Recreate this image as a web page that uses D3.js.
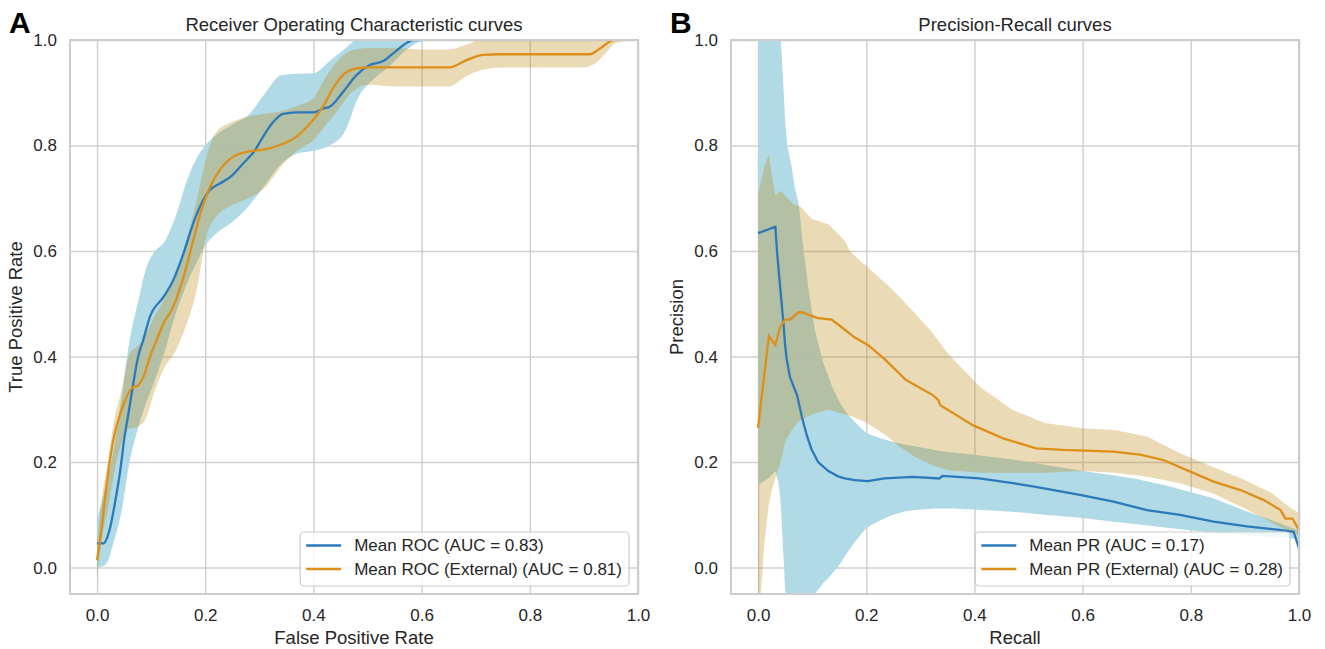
<!DOCTYPE html>
<html>
<head>
<meta charset="utf-8">
<script src="https://cdn.jsdelivr.net/npm/d3@7"></script>
<style>
  body { margin: 0; background: #fff; }
  text { font-family: "Liberation Sans", Arial, sans-serif; fill: #262626; }
</style>
</head>
<body>
<div id="chart"></div>
<script>
// ---- ROC panel (A) ----
const rocMeanX = [0, 0.012, 0.023, 0.033, 0.043, 0.05, 0.058, 0.067, 0.076, 0.085, 0.098, 0.123, 0.141, 0.16, 0.178, 0.193, 0.209, 0.227, 0.246, 0.27, 0.292, 0.307, 0.326, 0.344, 0.369, 0.4, 0.418, 0.431, 0.455, 0.48, 0.505, 0.529, 0.548, 0.566, 0.585, 0.6];
const rocMeanY = [0.046, 0.046, 0.071, 0.122, 0.185, 0.242, 0.292, 0.349, 0.40, 0.43, 0.476, 0.513, 0.545, 0.596, 0.653, 0.69, 0.716, 0.728, 0.74, 0.766, 0.791, 0.817, 0.845, 0.86, 0.863, 0.863, 0.87, 0.874, 0.902, 0.934, 0.953, 0.96, 0.975, 0.99, 1.0, 1.0];
const rocBandX = [0, 0.01, 0.02, 0.03, 0.045, 0.06, 0.075, 0.09, 0.105, 0.125, 0.145, 0.165, 0.185, 0.2, 0.22, 0.25, 0.28, 0.31, 0.34, 0.37, 0.4, 0.43, 0.46, 0.48, 0.51, 0.54, 0.57, 0.6];
const rocHi = [0.09, 0.13, 0.17, 0.22, 0.32, 0.43, 0.50, 0.565, 0.597, 0.618, 0.665, 0.73, 0.778, 0.80, 0.82, 0.84, 0.858, 0.898, 0.933, 0.936, 0.937, 0.96, 0.985, 1.0, 1.0, 1.0, 1.0, 1.0];
const rocLo = [0.0, 0.002, 0.012, 0.046, 0.105, 0.2, 0.262, 0.31, 0.35, 0.41, 0.48, 0.535, 0.58, 0.61, 0.633, 0.655, 0.685, 0.725, 0.765, 0.785, 0.79, 0.80, 0.83, 0.885, 0.925, 0.95, 0.98, 1.0];

const rocExtMeanX = [0, 0.008, 0.015, 0.023, 0.03, 0.043, 0.055, 0.064, 0.076, 0.086, 0.098, 0.11, 0.123, 0.141, 0.16, 0.178, 0.193, 0.209, 0.227, 0.252, 0.277, 0.307, 0.338, 0.369, 0.394, 0.418, 0.437, 0.455, 0.48, 0.505, 0.55, 0.652, 0.683, 0.714, 0.745, 0.911, 0.93, 0.948, 0.955];
const rocExtMeanY = [0.014, 0.071, 0.134, 0.198, 0.242, 0.292, 0.324, 0.34, 0.346, 0.362, 0.40, 0.431, 0.463, 0.495, 0.551, 0.621, 0.678, 0.722, 0.754, 0.779, 0.788, 0.792, 0.801, 0.817, 0.842, 0.874, 0.91, 0.934, 0.946, 0.948, 0.948, 0.948, 0.962, 0.972, 0.973, 0.973, 0.984, 0.997, 1.0];
const rocExtBandX = [0, 0.01, 0.02, 0.03, 0.045, 0.06, 0.075, 0.09, 0.105, 0.125, 0.145, 0.165, 0.185, 0.2, 0.22, 0.25, 0.28, 0.31, 0.34, 0.37, 0.4, 0.42, 0.44, 0.47, 0.5, 0.55, 0.6, 0.65, 0.68, 0.71, 0.75, 0.9, 0.92, 0.94, 0.96, 1.0];
const rocExtHi = [0.05, 0.14, 0.2, 0.27, 0.335, 0.405, 0.42, 0.44, 0.475, 0.51, 0.555, 0.62, 0.70, 0.77, 0.825, 0.845, 0.855, 0.86, 0.865, 0.875, 0.89, 0.925, 0.955, 0.98, 0.985, 0.985, 0.982, 0.982, 0.99, 1.0, 1.0, 1.0, 1.0, 1.0, 1.0, 1.0];
const rocExtLo = [-0.02, 0.06, 0.11, 0.17, 0.235, 0.263, 0.267, 0.282, 0.33, 0.38, 0.41, 0.46, 0.53, 0.62, 0.665, 0.687, 0.70, 0.72, 0.76, 0.79, 0.81, 0.835, 0.86, 0.9, 0.915, 0.912, 0.912, 0.912, 0.93, 0.943, 0.948, 0.948, 0.955, 0.975, 0.995, 1.0];

// ---- Precision-Recall panel (B) ----
const prMeanX = [0, 0.032, 0.035, 0.041, 0.047, 0.05, 0.053, 0.059, 0.072, 0.081, 0.09, 0.099, 0.111, 0.13, 0.148, 0.16, 0.179, 0.203, 0.234, 0.27, 0.286, 0.335, 0.341, 0.409, 0.471, 0.49, 0.508, 0.595, 0.657, 0.719, 0.78, 0.842, 0.904, 0.96, 0.99, 1.0];
const prMeanY = [0.634, 0.646, 0.6, 0.53, 0.463, 0.422, 0.395, 0.361, 0.327, 0.286, 0.251, 0.224, 0.2, 0.183, 0.173, 0.169, 0.166, 0.164, 0.169, 0.171, 0.172, 0.169, 0.174, 0.169, 0.16, 0.157, 0.154, 0.138, 0.125, 0.109, 0.1, 0.087, 0.078, 0.072, 0.068, 0.037];
const prBandX = [0, 0.02, 0.032, 0.038, 0.042, 0.046, 0.05, 0.054, 0.058, 0.062, 0.068, 0.075, 0.082, 0.093, 0.105, 0.12, 0.136, 0.15, 0.166, 0.18, 0.2, 0.226, 0.25, 0.273, 0.3, 0.33, 0.36, 0.4, 0.47, 0.53, 0.6, 0.65, 0.7, 0.76, 0.84, 0.9, 0.95, 0.98, 1.0];
const prHi = [1.1, 1.1, 1.1, 1.05, 1.0, 0.93, 0.85, 0.8, 0.78, 0.76, 0.72, 0.69, 0.62, 0.53, 0.45, 0.39, 0.345, 0.315, 0.29, 0.275, 0.255, 0.245, 0.238, 0.233, 0.228, 0.222, 0.218, 0.214, 0.205, 0.195, 0.183, 0.176, 0.168, 0.154, 0.132, 0.108, 0.09, 0.078, 0.07];
const prLo = [0.156, 0.17, 0.183, 0.16, 0.12, 0.04, -0.04, -0.06, -0.08, -0.09, -0.1, -0.1, -0.09, -0.07, -0.05, -0.03, -0.013, 0.005, 0.03, 0.05, 0.075, 0.09, 0.1, 0.107, 0.11, 0.112, 0.112, 0.11, 0.106, 0.1, 0.094, 0.088, 0.082, 0.075, 0.066, 0.062, 0.058, 0.056, 0.054];

const prExtMeanX = [0, 0.02, 0.032, 0.041, 0.05, 0.059, 0.075, 0.081, 0.096, 0.111, 0.136, 0.154, 0.179, 0.203, 0.234, 0.273, 0.323, 0.333, 0.337, 0.397, 0.453, 0.514, 0.564, 0.657, 0.706, 0.749, 0.799, 0.842, 0.892, 0.935, 0.966, 0.975, 0.988, 1.0];
const prExtMeanY = [0.265, 0.439, 0.422, 0.456, 0.47, 0.47, 0.484, 0.484, 0.478, 0.473, 0.47, 0.456, 0.436, 0.422, 0.395, 0.356, 0.327, 0.318, 0.308, 0.27, 0.245, 0.226, 0.223, 0.22, 0.214, 0.204, 0.182, 0.163, 0.147, 0.128, 0.109, 0.093, 0.093, 0.071];
const prExtBandX = [0, 0.005, 0.012, 0.02, 0.026, 0.032, 0.04, 0.044, 0.05, 0.056, 0.065, 0.078, 0.099, 0.13, 0.16, 0.17, 0.19, 0.2, 0.22, 0.24, 0.26, 0.29, 0.32, 0.35, 0.41, 0.47, 0.53, 0.6, 0.66, 0.72, 0.78, 0.84, 0.9, 0.95, 0.975, 1.0];
const prExtHi = [0.709, 0.73, 0.76, 0.784, 0.74, 0.706, 0.713, 0.713, 0.705, 0.699, 0.689, 0.685, 0.661, 0.651, 0.62, 0.6, 0.58, 0.572, 0.553, 0.535, 0.515, 0.482, 0.448, 0.407, 0.343, 0.299, 0.274, 0.264, 0.261, 0.248, 0.217, 0.191, 0.166, 0.141, 0.12, 0.103];
const prExtLo = [-0.2, -0.05, 0.05, 0.12, 0.15, 0.17, 0.195, 0.21, 0.238, 0.25, 0.265, 0.279, 0.29, 0.299, 0.29, 0.288, 0.28, 0.275, 0.262, 0.248, 0.23, 0.21, 0.195, 0.185, 0.18, 0.18, 0.18, 0.183, 0.18, 0.172, 0.16, 0.141, 0.112, 0.085, 0.072, 0.06];

const tickValues = [0, 0.2, 0.4, 0.6, 0.8, 1.0];
const blue = "#2c79ba", orange = "#dd8f1a";

const svg = d3.select("#chart")
  .append("svg")
    .attr("width", 1325)
    .attr("height", 649);

function zip(xs, ys) { return xs.map((x, i) => [x, ys[i]]); }
function zip3(xs, lo, hi) { return xs.map((x, i) => [x, lo[i], hi[i]]); }

function panel(cfg) {
  const margin = {top: 40, left: cfg.left},
      width = 568,
      height = 554;

  const g = svg.append("g")
      .attr("transform", `translate(${margin.left},${margin.top})`);

  const x = d3.scaleLinear().domain([-0.05, 1.0]).range([0, width]);
  const y = d3.scaleLinear().domain([-0.05, 1.0]).range([height, 0]);

  // grid
  g.append("g")
    .call(d3.axisBottom(x).tickValues(tickValues).tickSize(height).tickFormat(""))
    .call(a => a.select(".domain").remove())
    .call(a => a.selectAll("line").attr("stroke", "#d0d0d0").attr("stroke-width", 1.5));
  g.append("g")
    .call(d3.axisLeft(y).tickValues(tickValues).tickSize(-width).tickFormat(""))
    .call(a => a.select(".domain").remove())
    .call(a => a.selectAll("line").attr("stroke", "#d0d0d0").attr("stroke-width", 1.5));

  // tick labels
  g.append("g")
      .attr("transform", `translate(0,${height})`)
    .call(d3.axisBottom(x).tickValues(tickValues).tickSize(0).tickPadding(15).tickFormat(d3.format(".1f")))
    .call(a => a.select(".domain").remove())
    .call(a => a.selectAll("text").attr("font-size", 17).attr("font-family", "Liberation Sans, Arial, sans-serif").attr("fill", "#262626"));
  g.append("g")
    .call(d3.axisLeft(y).tickValues(tickValues).tickSize(0).tickPadding(13).tickFormat(d3.format(".1f")))
    .call(a => a.select(".domain").remove())
    .call(a => a.selectAll("text").attr("font-size", 17).attr("font-family", "Liberation Sans, Arial, sans-serif").attr("fill", "#262626"));

  const clipId = "clip" + cfg.letter;
  g.append("clipPath").attr("id", clipId)
    .append("rect").attr("width", width).attr("height", height);

  const plot = g.append("g").attr("clip-path", `url(#${clipId})`);

  const area = d3.area()
      .x(d => x(d[0]))
      .y0(d => y(d[1]))
      .y1(d => y(d[2]))
      .curve(cfg.curve);
  const line = d3.line()
      .x(d => x(d[0]))
      .y(d => y(d[1]))
      .curve(cfg.curve);

  plot.append("path")
      .datum(zip3(cfg.bandX, cfg.lo, cfg.hi))
      .attr("d", area)
      .attr("fill", "#add8e6")
      .attr("fill-opacity", 0.95);
  plot.append("path")
      .datum(zip3(cfg.extBandX, cfg.extLo, cfg.extHi))
      .attr("d", area)
      .attr("fill", "#b8860b")
      .attr("fill-opacity", 0.3);
  plot.append("path")
      .datum(zip(cfg.meanX, cfg.meanY))
      .attr("d", line)
      .attr("fill", "none")
      .attr("stroke", blue)
      .attr("stroke-width", 2.3);
  plot.append("path")
      .datum(zip(cfg.extMeanX, cfg.extMeanY))
      .attr("d", line)
      .attr("fill", "none")
      .attr("stroke", orange)
      .attr("stroke-width", 2.3);

  // frame
  g.append("rect")
      .attr("width", width).attr("height", height)
      .attr("fill", "none").attr("stroke", "#cccccc").attr("stroke-width", 2);

  // titles
  g.append("text")
      .attr("x", width / 2).attr("y", -9)
      .attr("text-anchor", "middle")
      .attr("font-size", 18.5)
      .text(cfg.title);
  g.append("text")
      .attr("x", width / 2).attr("y", height + 50)
      .attr("text-anchor", "middle")
      .attr("font-size", 18.5)
      .text(cfg.xLabel);
  g.append("text")
      .attr("transform", `translate(${-54},${height / 2}) rotate(-90)`)
      .attr("text-anchor", "middle")
      .attr("dy", "0.35em")
      .attr("font-size", 18.5)
      .text(cfg.yLabel);
  svg.append("text")
      .attr("x", margin.left - 61).attr("y", 33)
      .attr("font-size", 30)
      .attr("font-weight", "bold")
      .style("fill", "#000")
      .text(cfg.letter);

  // legend
  const leg = g.append("g");
  const box = leg.append("rect")
      .attr("rx", 4)
      .attr("fill", "#fff").attr("fill-opacity", 0.8)
      .attr("stroke", "#cccccc").attr("stroke-width", 1.2);
  const rows = [[cfg.names[0], blue], [cfg.names[1], orange]];
  let maxW = 0;
  const items = leg.selectAll("g.item")
    .data(rows)
    .join("g")
      .attr("class", "item")
      .attr("transform", (d, i) => `translate(0,${505.5 + i * 23.5})`);
  items.append("line")
      .attr("x1", 0).attr("x2", 35)
      .attr("stroke", d => d[1]).attr("stroke-width", 2.3);
  items.append("text")
      .attr("x", 48)
      .attr("dy", "0.35em")
      .attr("font-size", 17)
      .text(d => d[0])
      .each(function() { maxW = Math.max(maxW, this.getComputedTextLength()); });
  const boxW = 6 + 48 + maxW + 7;
  const boxRight = width - 9;
  leg.attr("transform", `translate(${boxRight - boxW + 6},0)`);
  box.attr("x", -6).attr("y", 492).attr("width", boxW).attr("height", 54);
}

panel({
  left: 70, letter: "A",
  title: "Receiver Operating Characteristic curves",
  xLabel: "False Positive Rate", yLabel: "True Positive Rate",
  curve: d3.curveMonotoneX,
  meanX: rocMeanX, meanY: rocMeanY, bandX: rocBandX, lo: rocLo, hi: rocHi,
  extMeanX: rocExtMeanX, extMeanY: rocExtMeanY, extBandX: rocExtBandX, extLo: rocExtLo, extHi: rocExtHi,
  names: ["Mean ROC (AUC = 0.83)", "Mean ROC (External) (AUC = 0.81)"]
});

panel({
  left: 731, letter: "B",
  title: "Precision-Recall curves",
  xLabel: "Recall", yLabel: "Precision",
  curve: d3.curveLinear,
  meanX: prMeanX, meanY: prMeanY, bandX: prBandX, lo: prLo, hi: prHi,
  extMeanX: prExtMeanX, extMeanY: prExtMeanY, extBandX: prExtBandX, extLo: prExtLo, extHi: prExtHi,
  names: ["Mean PR (AUC = 0.17)", "Mean PR (External) (AUC = 0.28)"]
});
</script>
</body>
</html>
